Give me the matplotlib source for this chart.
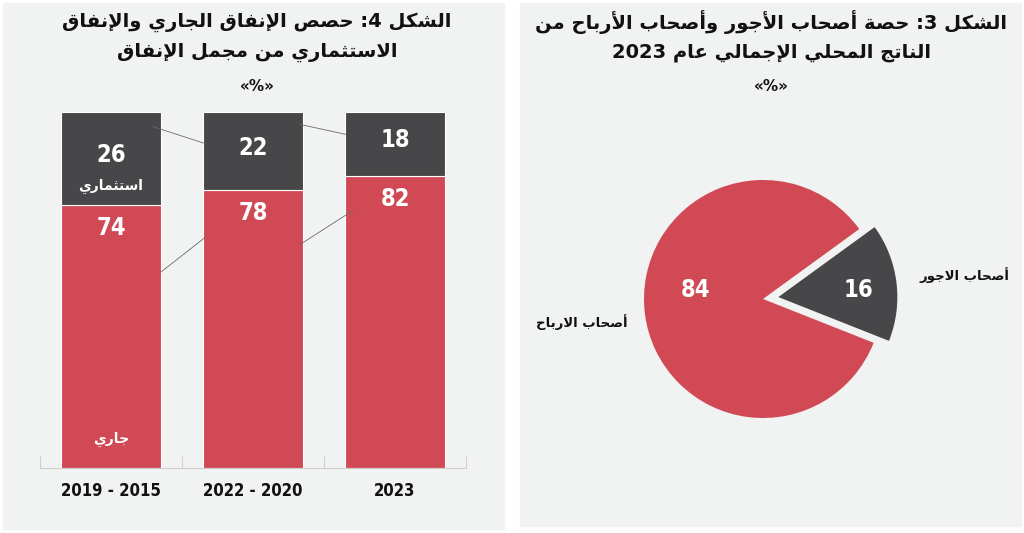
import re
import matplotlib
matplotlib.use("Agg")
import matplotlib.pyplot as plt
from matplotlib.patches import Rectangle

# --- data -------------------------------------------------------------
periods = ["2019 - 2015", "2022 - 2020", "2023"]
current_share = [74, 78, 82]      # جاري
invest_share = [26, 22, 18]       # استثماري
pie_values = [16, 84]
pie_names = ["أصحاب الاجور", "أصحاب الارباح"]

# thin connector lines between the bars (x in bar units, y in %)
conn_x = [(0.294, 0.658), (1.332, 1.656), (0.354, 0.663), (1.332, 1.703)]
conn_y = [(95.9, 91.2), (96.5, 93.7), (55.1, 64.8), (62.8, 72.3)]

title_left = ["الشكل 4: حصص الإنفاق الجاري والإنفاق", "الاستثماري من مجمل الإنفاق"]
title_right = ["الشكل 3: حصة أصحاب الأجور وأصحاب الأرباح من",
               "الناتج المحلي الإجمالي عام 2023"]

RED = "#d14955"
DARK = "#474749"
BG = "#f1f2f2"

# --- tiny arabic shaper (no arabic_reshaper available) -----------------
FORMS = {
    'ا': (0xFE8D, 0xFE8E, None, None), 'أ': (0xFE83, 0xFE84, None, None),
    'إ': (0xFE87, 0xFE88, None, None), 'آ': (0xFE81, 0xFE82, None, None),
    'ب': (0xFE8F, 0xFE90, 0xFE91, 0xFE92), 'ة': (0xFE93, 0xFE94, None, None),
    'ت': (0xFE95, 0xFE96, 0xFE97, 0xFE98), 'ث': (0xFE99, 0xFE9A, 0xFE9B, 0xFE9C),
    'ج': (0xFE9D, 0xFE9E, 0xFE9F, 0xFEA0), 'ح': (0xFEA1, 0xFEA2, 0xFEA3, 0xFEA4),
    'خ': (0xFEA5, 0xFEA6, 0xFEA7, 0xFEA8), 'د': (0xFEA9, 0xFEAA, None, None),
    'ذ': (0xFEAB, 0xFEAC, None, None), 'ر': (0xFEAD, 0xFEAE, None, None),
    'ز': (0xFEAF, 0xFEB0, None, None), 'س': (0xFEB1, 0xFEB2, 0xFEB3, 0xFEB4),
    'ش': (0xFEB5, 0xFEB6, 0xFEB7, 0xFEB8), 'ص': (0xFEB9, 0xFEBA, 0xFEBB, 0xFEBC),
    'ض': (0xFEBD, 0xFEBE, 0xFEBF, 0xFEC0), 'ط': (0xFEC1, 0xFEC2, 0xFEC3, 0xFEC4),
    'ظ': (0xFEC5, 0xFEC6, 0xFEC7, 0xFEC8), 'ع': (0xFEC9, 0xFECA, 0xFECB, 0xFECC),
    'غ': (0xFECD, 0xFECE, 0xFECF, 0xFED0), 'ف': (0xFED1, 0xFED2, 0xFED3, 0xFED4),
    'ق': (0xFED5, 0xFED6, 0xFED7, 0xFED8), 'ك': (0xFED9, 0xFEDA, 0xFEDB, 0xFEDC),
    'ل': (0xFEDD, 0xFEDE, 0xFEDF, 0xFEE0), 'م': (0xFEE1, 0xFEE2, 0xFEE3, 0xFEE4),
    'ن': (0xFEE5, 0xFEE6, 0xFEE7, 0xFEE8), 'ه': (0xFEE9, 0xFEEA, 0xFEEB, 0xFEEC),
    'و': (0xFEED, 0xFEEE, None, None), 'ى': (0xFEEF, 0xFEF0, None, None),
    'ي': (0xFEF1, 0xFEF2, 0xFEF3, 0xFEF4),
}
LAM_ALEF = {'ا': (0xFEFB, 0xFEFC), 'أ': (0xFEF7, 0xFEF8),
            'إ': (0xFEF9, 0xFEFA), 'آ': (0xFEF5, 0xFEF6)}


def dual(c):
    return c in FORMS and FORMS[c][2] is not None


def ar(text):
    res = []
    i, n = 0, len(text)
    while i < n:
        c = text[i]
        if c not in FORMS:
            res.append(c)
            i += 1
            continue
        joins_prev = i > 0 and dual(text[i - 1])
        if c == 'ل' and i + 1 < n and text[i + 1] in LAM_ALEF:
            iso, fin = LAM_ALEF[text[i + 1]]
            res.append(chr(fin if joins_prev else iso))
            i += 2
            continue
        joins_next = dual(c) and i + 1 < n and text[i + 1] in FORMS
        iso, fin, ini, med = FORMS[c]
        if joins_prev and joins_next:
            g = med
        elif joins_prev:
            g = fin
        elif joins_next:
            g = ini
        else:
            g = iso
        res.append(chr(g))
        i += 1
    s = ''.join(res)[::-1]
    return re.sub(r'[0-9]+', lambda m: m.group(0)[::-1], s)


AR_FONT = dict(family="DejaVu Sans", fontweight="bold")
NUM_FONT = dict(family="DejaVu Sans", fontweight="bold", fontstretch="condensed")

W, H = 1024, 533
fig = plt.figure(figsize=(W / 100, H / 100), dpi=100)
fig.patch.set_facecolor("white")


def fx(px):
    return px / W


def fy(py):
    return 1 - py / H


# panel backgrounds (behind the axes)
fig.patches.append(Rectangle((fx(3), fy(529)), fx(501), 526 / H,
                             transform=fig.transFigure, color=BG, zorder=-5))
fig.patches.append(Rectangle((fx(520), fy(526)), fx(501), 523 / H,
                             transform=fig.transFigure, color=BG, zorder=-5))

# titles
for k, line in enumerate(title_left):
    fig.text(fx(257), fy(22 + 30 * k), ar(line), ha="center", va="center",
             fontsize=14, color="#111111", **AR_FONT)
fig.text(fx(257), fy(87), "«%»", ha="center", va="center", fontsize=11,
         color="#111111", **AR_FONT)
for k, line in enumerate(title_right):
    fig.text(fx(771), fy(22 + 30 * k), ar(line), ha="center", va="center",
             fontsize=14, color="#111111", **AR_FONT)
fig.text(fx(771), fy(87), "«%»", ha="center", va="center", fontsize=11,
         color="#111111", **AR_FONT)

# --- Figure 4: stacked bars -------------------------------------------
ax = fig.add_axes([fx(40), fy(468), fx(426), 356 / H])
ax.set_facecolor("none")
x = list(range(len(periods)))
ax.bar(x, current_share, width=0.71, color=RED, edgecolor="white", linewidth=0.8)
ax.bar(x, invest_share, width=0.71, bottom=current_share, color=DARK,
       edgecolor="white", linewidth=0.8)
for (x0, x1), (y0, y1) in zip(conn_x, conn_y):
    ax.plot([x0, x1], [y0, y1], color="#6b6b6b", linewidth=0.6)

for i in x:
    top_c = current_share[i]
    ax.text(i, top_c + invest_share[i] / 2 + 1, str(invest_share[i]), ha="center",
            va="center", color="white", fontsize=17, **NUM_FONT)
    ax.text(i, top_c - 6.5, str(top_c), ha="center", va="center",
            color="white", fontsize=17, **NUM_FONT)
ax.text(0, current_share[0] + 5.2, ar("استثماري"), ha="center", va="center",
        color="white", fontsize=10, **AR_FONT)
ax.text(0, 7.9, ar("جاري"), ha="center", va="center", color="white",
        fontsize=10, **AR_FONT)

ax.set_xlim(-0.5, 2.5)
ax.set_ylim(0, 100)
for s in ["top", "left", "right"]:
    ax.spines[s].set_visible(False)
ax.spines["bottom"].set_color("#cfcfcf")
ax.set_yticks([])
ax.set_xticks(x)
ax.set_xticklabels(periods, **NUM_FONT)
ax.set_xticks([-0.5, 0.5, 1.5, 2.5], minor=True)
ax.tick_params(axis="x", which="major", length=0, pad=10, labelsize=12,
               labelcolor="#111111")
ax.tick_params(axis="x", which="minor", direction="in", length=9,
               color="#cfcfcf", width=0.8)

# --- Figure 3: pie ----------------------------------------------------
r = 119
cx, cy = 763, 299
side = 2.6 * r
ax2 = fig.add_axes([fx(cx - side / 2), fy(cy + side / 2), fx(side), side / H])
ax2.pie(pie_values, colors=[DARK, RED], startangle=-21.6, explode=[0.13, 0],
        wedgeprops=dict(linewidth=0))
ax2.set_xlim(-1.3, 1.3)
ax2.set_ylim(-1.3, 1.3)
ax2.set_aspect("equal")
ax2.text(0.80, 0.076, str(pie_values[0]), ha="center", va="center",
         color="white", fontsize=17, **NUM_FONT)
ax2.text(-0.563, 0.076, str(pie_values[1]), ha="center", va="center",
         color="white", fontsize=17, **NUM_FONT)

fig.text(fx(1009), fy(275), ar(pie_names[0]), ha="right", va="center",
         fontsize=9.5, color="#111111", **AR_FONT)
fig.text(fx(628), fy(322), ar(pie_names[1]), ha="right", va="center",
         fontsize=9.5, color="#111111", **AR_FONT)

fig.savefig("out.png", dpi=100)
